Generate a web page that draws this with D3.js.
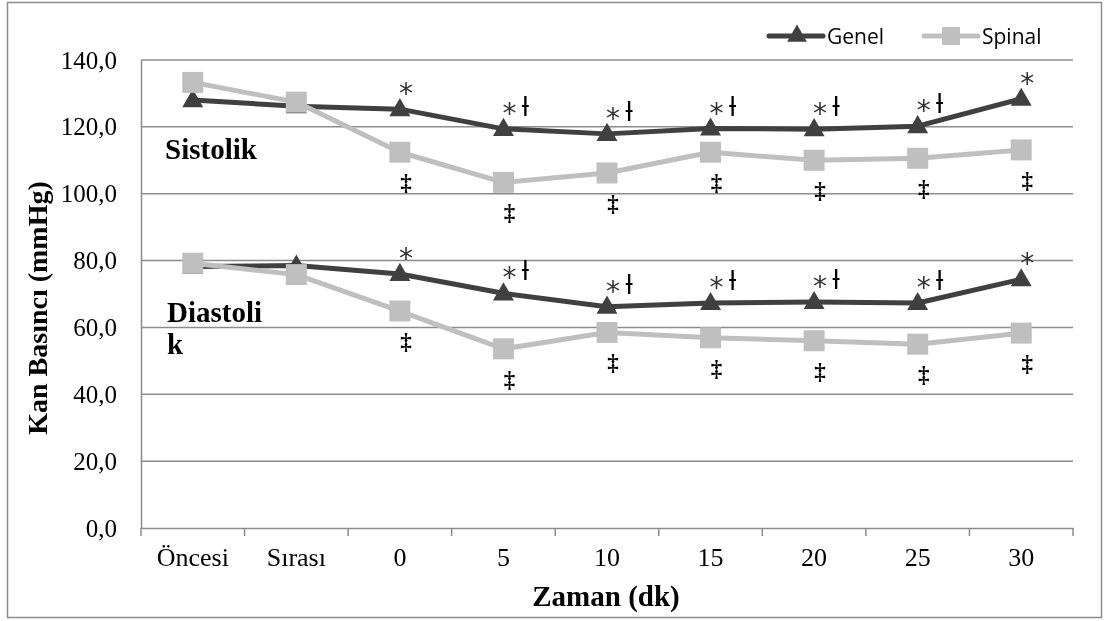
<!DOCTYPE html>
<html>
<head>
<meta charset="utf-8">
<script src="https://cdn.jsdelivr.net/npm/d3@7"></script>
<style>
  body { margin: 0; background: #fff; }
  svg { will-change: transform; }
  svg text { font-family: "Liberation Serif", "Times New Roman", serif; }
</style>
</head>
<body>
<div id="chart"></div>
<script>
// données
const categories = ["Öncesi", "Sırası", "0", "5", "10", "15", "20", "25", "30"];
const genelSis  = [128.0, 126.2, 125.3, 119.4, 117.9, 119.5, 119.3, 120.2, 128.4];
const spinalSis = [133.3, 127.4, 112.4, 103.4, 106.2, 112.4, 110.0, 110.6, 113.1];
const genelDia  = [78.2, 78.5, 76.0, 70.2, 66.2, 67.3, 67.6, 67.3, 74.4];
const spinalDia = [79.2, 75.8, 64.9, 53.6, 58.5, 56.9, 56.0, 55.0, 58.3];
const yTicks = [0, 20, 40, 60, 80, 100, 120, 140];
// annotations : * et ƚ au-dessus de Genel, ‡ sous Spinal (index des catégories)
const starIdx = [2, 3, 4, 5, 6, 7, 8];
const crossIdx = [3, 4, 5, 6, 7];
const ddagIdx = [2, 3, 4, 5, 6, 7, 8];

const width = 1105, height = 621;
const dark = "#404040", light = "#bfbfbf", grid = "#8c8c8c";

const svg = d3.select("#chart").append("svg")
    .attr("width", width)
    .attr("height", height);

// cadre extérieur
svg.append("rect")
    .attr("x", 7.5).attr("y", 2.5)
    .attr("width", 1094).attr("height", 615)
    .attr("fill", "#fff").attr("stroke", grid).attr("stroke-width", 1.5);

const x = d3.scaleBand().domain(categories).range([141, 1073]);
const y = d3.scaleLinear().domain([0, 140]).range([528, 60]);

// lignes de grille
svg.append("g").selectAll("line")
    .data(yTicks.filter(d => d > 0))
    .join("line")
    .attr("x1", 141).attr("x2", 1073)
    .attr("y1", d => y(d)).attr("y2", d => y(d))
    .attr("stroke", grid).attr("stroke-width", 1.5);

// axe Y
const yAxis = svg.append("g")
    .attr("transform", "translate(141,0)")
    .call(d3.axisLeft(y).tickValues(yTicks).tickSize(0).tickPadding(24)
        .tickFormat(d => d.toFixed(1).replace(".", ",")));
yAxis.select(".domain").attr("stroke", grid).attr("stroke-width", 1.5);
yAxis.selectAll("text")
    .attr("font-size", 25).attr("fill", "#000")
    .style("font-family", "Liberation Serif");

// axe X
const xAxis = svg.append("g")
    .attr("transform", "translate(0,528)")
    .call(d3.axisBottom(x).tickSize(0).tickPadding(20));
xAxis.select(".domain").attr("stroke", grid).attr("stroke-width", 1.5);
xAxis.selectAll("text")
    .attr("font-size", 26).attr("fill", "#000")
    .style("font-family", "Liberation Serif");
// petites graduations entre les catégories
svg.append("g").selectAll("line")
    .data(categories.map(c => x(c)).concat([x.range()[1]]))
    .join("line")
    .attr("x1", d => d).attr("x2", d => d)
    .attr("y1", 528).attr("y2", 536)
    .attr("stroke", grid).attr("stroke-width", 1.5);

// titres des axes
svg.append("text")
    .attr("transform", "translate(47,308) rotate(-90)")
    .attr("text-anchor", "middle")
    .attr("font-size", 28).attr("font-weight", "bold")
    .text("Kan Basıncı (mmHg)");
svg.append("text")
    .attr("x", 606).attr("y", 606)
    .attr("text-anchor", "middle")
    .attr("font-size", 29).attr("font-weight", "bold")
    .text("Zaman (dk)");

// séries
const cx = i => x(categories[i]) + x.bandwidth() / 2;
const line = d3.line()
    .x((d, i) => cx(i))
    .y(d => y(d));
const tri = d3.symbol().type(d3.symbolTriangle).size(190);

function drawSeries(vals, color, marker) {
  svg.append("path")
      .datum(vals)
      .attr("d", line)
      .attr("fill", "none")
      .attr("stroke", color)
      .attr("stroke-width", 5)
      .attr("stroke-linejoin", "round");
  if (marker === "square") {
    svg.append("g").selectAll("rect")
        .data(vals)
        .join("rect")
        .attr("x", (d, i) => cx(i) - 10.5)
        .attr("y", d => y(d) - 10.5)
        .attr("width", 21).attr("height", 21)
        .attr("fill", color);
  } else {
    svg.append("g").selectAll("path")
        .data(vals)
        .join("path")
        .attr("d", tri)
        .attr("transform", (d, i) => `translate(${cx(i)},${y(d) + 1})`)
        .attr("fill", color);
  }
}
drawSeries(genelSis, dark, "triangle");
drawSeries(spinalSis, light, "square");
drawSeries(genelDia, dark, "triangle");
drawSeries(spinalDia, light, "square");

// annotations de significativité
function annotate(gen, spi) {
  const g = svg.append("g").attr("fill", "#000");
  g.selectAll("text.star")
      .data(starIdx)
      .join("text")
      .attr("class", "star")
      .attr("x", i => cx(i) + 6)
      .attr("y", i => y(gen[i]) - 22 + 16)
      .attr("text-anchor", "middle")
      .attr("font-size", 28)
      .attr("fill", "#333")
      .style("font-family", "DejaVu Sans")
      .text("*");
  g.selectAll("text.cross")
      .data(crossIdx)
      .join("text")
      .attr("class", "cross")
      .attr("x", i => cx(i) + 22)
      .attr("y", i => y(gen[i]) - 24 + 11)
      .attr("text-anchor", "middle")
      .attr("font-size", 26)
      .style("font-family", "DejaVu Sans")
      .text("ƚ");
  g.selectAll("text.ddag")
      .data(ddagIdx)
      .join("text")
      .attr("class", "ddag")
      .attr("x", i => cx(i) + 6)
      .attr("y", i => y(spi[i]) + 32 + 6)
      .attr("text-anchor", "middle")
      .attr("font-size", 23)
      .attr("font-weight", "bold")
      .text("‡");
}
annotate(genelSis, spinalSis);
annotate(genelDia, spinalDia);

// étiquettes Sistolik / Diastolik
const lab = svg.append("g")
    .attr("font-size", 29).attr("font-weight", "bold");
lab.append("text").attr("x", 165).attr("y", 159).text("Sistolik");
lab.append("text").attr("x", 167).attr("y", 322).text("Diastoli");
lab.append("text").attr("x", 167).attr("y", 354).text("k");

// légende
const leg = svg.append("g").attr("transform", "translate(0,36)");
const legItems = [
  { name: "Genel", color: dark, marker: "triangle", x0: 769 },
  { name: "Spinal", color: light, marker: "square", x0: 924 }
];
legItems.forEach(it => {
  leg.append("line")
      .attr("x1", it.x0).attr("x2", it.x0 + 54)
      .attr("stroke", it.color).attr("stroke-width", 5)
      .attr("stroke-linecap", "round");
  if (it.marker === "square") {
    leg.append("rect")
        .attr("x", it.x0 + 18).attr("y", -9)
        .attr("width", 18).attr("height", 18)
        .attr("fill", it.color);
  } else {
    leg.append("path")
        .attr("d", d3.symbol().type(d3.symbolTriangle).size(170))
        .attr("transform", `translate(${it.x0 + 28},0)`)
        .attr("fill", it.color);
  }
  leg.append("text")
      .attr("x", it.x0 + 58).attr("y", 8)
      .attr("font-size", 21)
      .style("font-family", "Open Sans")
      .text(it.name);
});
</script>
</body>
</html>
